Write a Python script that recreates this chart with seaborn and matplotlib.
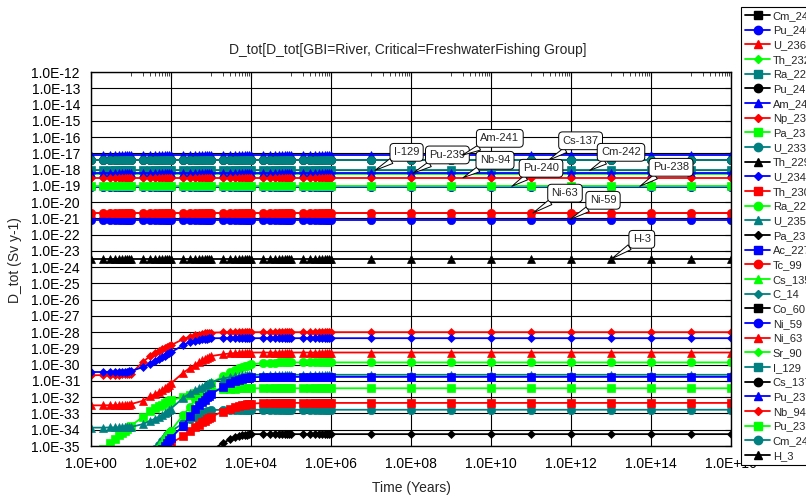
import numpy as np
import matplotlib
matplotlib.use('Agg')
import matplotlib.pyplot as plt
from matplotlib.lines import Line2D
from matplotlib.ticker import FixedLocator, NullLocator, NullFormatter
import seaborn as sns

# Time grid (years) - every marker position in the reference
time_years = [1, 2, 3, 4, 5, 6, 7, 8, 9,
              1e1, 2e1, 3e1, 4e1, 5e1, 6e1, 7e1, 8e1, 9e1,
              1e2, 2e2, 3e2, 4e2, 5e2, 6e2, 7e2, 8e2, 9e2,
              1e3, 2e3, 3e3, 4e3, 5e3, 6e3, 7e3, 8e3, 9e3,
              1e4, 2e4, 3e4, 4e4, 5e4, 6e4, 7e4, 8e4, 9e4,
              1e5, 2e5, 3e5, 4e5, 5e5, 6e5, 7e5, 8e5, 9e5,
              1e6, 1e7, 1e8, 1e9, 1e10, 1e11, 1e12, 1e13, 1e14, 1e15, 1e16]
n_t = len(time_years)
nan = np.nan

# Legend order (also drawing order)
nuclides = ['Cm_244', 'Pu_240', 'U_236', 'Th_232', 'Ra_228', 'Pu_241', 'Am_241', 'Np_237',
            'Pa_233', 'U_233', 'Th_229', 'U_234', 'Th_230', 'Ra_226', 'U_235', 'Pa_231',
            'Ac_227', 'Tc_99', 'Cs_135', 'C_14', 'Co_60', 'Ni_59', 'Ni_63', 'Sr_90',
            'I_129', 'Cs_137', 'Pu_239', 'Nb_94', 'Pu_238', 'Cm_242', 'H_3']

# Flat dose levels, log10(Sv/y)
flat_names = ['Am_241', 'Cs_137', 'Cm_242', 'I_129', 'Pu_239', 'Cs_135', 'Nb_94',
              'Pu_238', 'Pu_240', 'Tc_99', 'Ni_63', 'Ni_59', 'H_3']
flat_logdose = [-17.12, -17.44, -17.44, -18.05, -18.22, -18.28, -18.50,
                -19.03, -19.07, -20.67, -20.67, -21.08, -23.48]

# In-growing daughters, log10(Sv/y) at each time point
Np_237 = [-30.65, -30.64, -30.63, -30.62, -30.61, -30.60, -30.60, -30.59, -30.58,
          -30.55, -29.83, -29.46, -29.28, -29.14, -29.04, -28.96, -28.90, -28.85,
          -28.80, -28.43, -28.28, -28.20, -28.15, -28.11, -28.08, -28.06, -28.04,
          -28.03, -28.01] + [-28.00] * 36
U_234 = [-30.45, -30.45, -30.44, -30.44, -30.43, -30.43, -30.42, -30.42, -30.41,
         -30.40, -30.14, -29.97, -29.80, -29.66, -29.55, -29.45, -29.37, -29.30,
         -29.24, -28.80, -28.62, -28.52, -28.46, -28.42, -28.40, -28.39, -28.38] + [-28.37] * 38
U_236 = [-32.50, -32.50, -32.49, -32.49, -32.48, -32.48, -32.47, -32.47, -32.46,
         -32.42, -32.22, -31.95, -31.80, -31.67, -31.55, -31.45, -31.35, -31.25,
         -31.15, -30.50, -30.20, -30.00, -29.85, -29.74, -29.65, -29.58, -29.52,
         -29.47, -29.36, -29.31, -29.29, -29.27, -29.26, -29.26, -29.25, -29.25] + [-29.25] * 29
U_235 = [-33.87, -33.87, -33.86, -33.86, -33.86, -33.85, -33.85, -33.85, -33.84,
         -33.83, -33.65, -33.45, -33.32, -33.20, -33.10, -33.00, -32.90, -32.80,
         -32.70, -32.05, -31.75, -31.58, -31.45, -31.35, -31.27, -31.20, -31.14,
         -31.08, -30.85, -30.76, -30.71, -30.68, -30.66, -30.65, -30.64, -30.63] + [-30.62] * 29
Ra_226 = [nan] * 9 + [
    nan, nan, nan, -35.50, -35.15, -34.85, -34.60, -34.38, -34.20,
    -34.05, -33.10, -32.60, -32.10, -31.80, -31.60, -31.45, -31.33, -31.22,
    -31.12, -30.72, -30.47, -30.33, -30.22, -30.15, -30.09, -30.05, -30.01,
    -29.98, -29.90, -29.88, -29.87] + [-29.86] * 25
Ac_227 = [nan] * 9 + [
    nan, nan, nan, nan, -35.50, -35.20, -35.00, -34.80, -34.65,
    -34.50, -33.75, -33.15, -32.75, -32.50, -32.30, -32.15, -32.00, -31.90,
    -31.80, -31.37, -31.12, -31.00, -30.92, -30.87, -30.84, -30.81, -30.79,
    -30.77] + [-30.75] * 28
Pa_233 = [-35.60, -35.20, -34.80, -34.55, -34.35, -34.20, -34.05, -33.95, -33.85,
          -33.75, -33.20, -32.85, -32.68, -32.55, -32.45, -32.38, -32.30, -32.25,
          -32.20, -31.98, -31.85, -31.76, -31.70, -31.65, -31.61, -31.58, -31.56,
          -31.54, -31.50, -31.48, -31.47, -31.46, -31.46] + [-31.45] * 32
Th_230 = [nan] * 9 + [
    nan, nan, nan, nan, nan, -35.30, -35.15, -35.02, -34.92,
    -34.82, -34.40, -34.05, -33.85, -33.68, -33.55, -33.44, -33.35, -33.27,
    -33.20, -32.88, -32.70, -32.58, -32.52, -32.48, -32.45, -32.43, -32.41,
    -32.39, -32.36] + [-32.35] * 27
U_233 = [nan] * 9 + [
    nan, nan, nan, -35.20, -34.95, -34.70, -34.50, -34.35, -34.20,
    -34.10, -33.60, -33.35, -33.20, -33.08, -32.98, -32.91, -32.86, -32.82,
    -32.79] + [-32.77] * 37
Pa_231 = [nan] * 26 + [-35.45,
    -35.30, -34.80, -34.60, -34.47, -34.40, -34.35, -34.32, -34.30, -34.28] + [-34.27] * 29

growing = {'Np_237': Np_237, 'U_234': U_234, 'U_236': U_236, 'U_235': U_235,
           'Ra_226': Ra_226, 'Ac_227': Ac_227, 'Pa_233': Pa_233, 'Th_230': Th_230,
           'U_233': U_233, 'Pa_231': Pa_231}

# Callout labels
note_text = ['I-129', 'Pu-239', 'Am-241', 'Nb-94', 'Cs-137', 'Cm-242',
             'Pu-240', 'Pu-238', 'Ni-63', 'Ni-59', 'H-3']
note_tip_t = [7.10, 8.05, 9.28, 9.30, 11.43, 12.47, 10.52, 13.72, 11.05, 11.97, 13.02]
note_tip_v = [-18.05, -18.22, -17.12, -18.50, -17.44, -18.05, -19.03, -19.03, -20.67, -21.08, -23.48]
note_box_t = [7.89, 8.91, 10.22, 10.10, 12.24, 13.25, 11.25, 14.50, 11.85, 12.80, 13.77]
note_box_v = [-16.94, -17.10, -16.08, -17.43, -16.23, -16.94, -17.92, -17.86, -19.45, -19.89, -22.29]

x_tick_exp = [0, 2, 4, 6, 8, 10, 12, 14, 16]
y_tick_exp = list(range(12, 36))

# Styling
sns.set_style('white')
plt.rcParams['font.family'] = ['Liberation Sans', 'DejaVu Sans']

palette = ['#000000', '#0000FF', '#FF0000', '#00FF00', '#008080']
marker_cycle = ['s', 'o', '^', 'D']
marker_size = {'s': 5.5, 'o': 6, '^': 5.5, 'D': 4}

fig = plt.figure(figsize=(8.06, 4.97), dpi=100)
ax = fig.add_axes([91 / 806, 51 / 497, 640 / 806, 374 / 497])
ax.set_xscale('log')
ax.set_yscale('log')

handles = []
for i, name in enumerate(nuclides):
    color = palette[i % 5]
    mk = marker_cycle[i % 4]
    if name in flat_names:
        logv = [flat_logdose[flat_names.index(name)]] * n_t
    elif name in growing:
        logv = growing[name]
    else:
        logv = [nan] * n_t
    logv = np.array(logv, dtype=float)
    if np.isfinite(logv).any():
        sns.lineplot(x=time_years, y=10.0 ** logv, color=color, marker=mk,
                     markersize=marker_size[mk], markeredgecolor=color,
                     markeredgewidth=0.5, linewidth=1.3, estimator=None,
                     sort=False, legend=False, ax=ax)
    handles.append(Line2D([], [], color=color, marker=mk, markersize=marker_size[mk],
                          markeredgecolor=color, lw=1.3, label=name))

ax.set_xlim(1, 1e16)
ax.set_ylim(1e-35, 1e-12)
ax.set_xticks([10.0 ** e for e in x_tick_exp])
ax.set_xticklabels([f'1.0E+{e:02d}' for e in x_tick_exp], fontsize=10)
ax.set_yticks([10.0 ** -e for e in y_tick_exp])
ax.set_yticklabels([f'1.0E-{e}' for e in y_tick_exp], fontsize=10)
ax.xaxis.set_minor_locator(FixedLocator([k * 10.0 ** (2 * n + 1)
                                         for n in range(8) for k in range(1, 10)]))
ax.xaxis.set_minor_formatter(NullFormatter())
ax.yaxis.set_minor_locator(NullLocator())
ax.tick_params(which='major', direction='in', length=4, width=0.8, colors='black',
               top=True, right=True, pad=8)
ax.tick_params(which='minor', direction='in', length=3, width=0.6, top=True)
ax.grid(True, which='major', color='black', linewidth=0.8)
for sp in ax.spines.values():
    sp.set_color('black')
    sp.set_linewidth(1)

for txt, tt, tv, bt, bv in zip(note_text, note_tip_t, note_tip_v, note_box_t, note_box_v):
    ax.annotate(txt, xy=(10.0 ** tt, 10.0 ** tv), xytext=(10.0 ** bt, 10.0 ** bv),
                ha='center', va='center', fontsize=8, zorder=10,
                bbox=dict(boxstyle='round,pad=0.35', fc='white', ec='black', lw=0.7),
                arrowprops=dict(arrowstyle='wedge,tail_width=0.5', fc='white',
                                ec='black', lw=0.7, shrinkA=0, shrinkB=0))

fig.text(408 / 806, 1 - 50 / 497, 'D_tot[D_tot[GBI=River, Critical=FreshwaterFishing Group]',
         ha='center', va='center', fontsize=10)
fig.text(411 / 806, 1 - 488 / 497, 'Time (Years)', ha='center', va='center', fontsize=10)
fig.text(15 / 806, 1 - 260 / 497, 'D_tot (Sv y-1)', rotation=90, ha='center',
         va='center', fontsize=10)

leg = fig.legend(handles=handles, loc='upper left', bbox_to_anchor=(741 / 806, 1 - 7 / 497),
                 bbox_transform=fig.transFigure, fontsize=8, frameon=True, fancybox=False,
                 edgecolor='black', framealpha=1, borderpad=0.35, labelspacing=0.42,
                 handlelength=2.3, handletextpad=0.2, borderaxespad=0)
leg.get_frame().set_linewidth(0.8)

fig.savefig('out.png', dpi=100)
